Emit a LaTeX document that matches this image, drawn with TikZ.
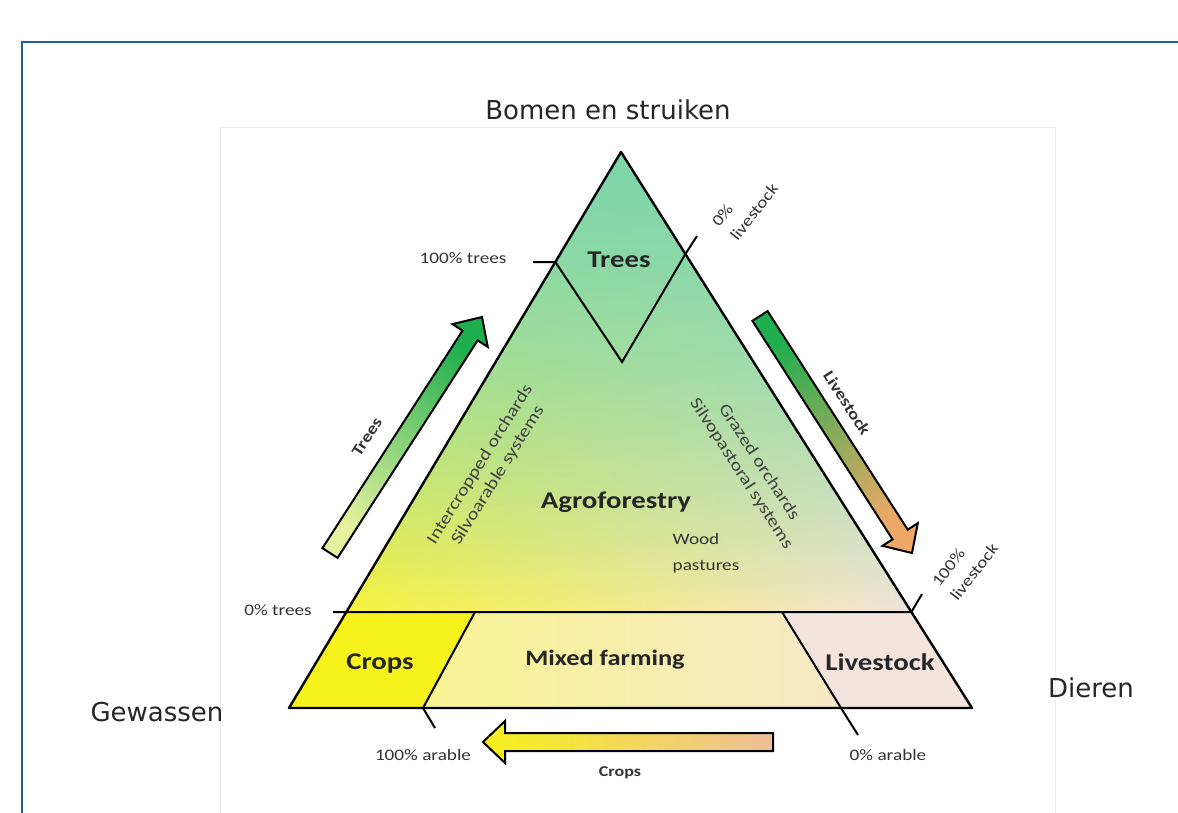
\documentclass[tikz,border=0pt]{standalone}
\usepackage{fontspec}
\setmainfont{Carlito}[FakeStretch=1.2]
\newfontfamily\axisfont{DejaVu Sans}
\usetikzlibrary{calc,fadings}
\definecolor{framec}{HTML}{1E6091}
\definecolor{mint}{HTML}{7DD6AA}
\definecolor{cropyellow}{HTML}{F8F21C}
\definecolor{mixyellow}{HTML}{F8F494}
\definecolor{beige}{HTML}{F3E4DC}
\definecolor{leafgreen}{HTML}{1FAE4E}
\definecolor{lightleaf}{HTML}{E6F2A0}
\definecolor{peach}{HTML}{F0A868}
\definecolor{sand}{HTML}{EEBE98}
\tikzfading[name=fadedown,top color=transparent!0,bottom color=transparent!100]
\newcommand\fatarrow[3]{%
	\path ($(#2)!22pt!(#1)$) coordinate (hb);
	\draw[fat,#3] ($(#1)!9pt!90:(#2)$)--($(hb)!9pt!90:(#2)$)--($(hb)!21pt!90:(#2)$)--(#2)
		--($(hb)!21pt!-90:(#2)$)--($(hb)!9pt!-90:(#2)$)--($(#1)!9pt!-90:(#2)$)--cycle;}
\begin{document}
\begin{tikzpicture}[x=1pt,y=-1pt,
		edge/.style={line width=2.4pt,line join=round},
		tick/.style={line width=2pt},
		fat/.style={draw=black,line width=2pt,line join=miter},
		big/.style={font=\bfseries\fontsize{24}{26}\selectfont,text=black!85},
		small/.style={font=\fontsize{16}{20}\selectfont,text=black!80},
		side/.style={font=\fontsize{17}{21}\selectfont,text=black!75,align=center},
		outer/.style={font=\axisfont\fontsize{26}{30}\selectfont,text=black!85}]
		\useasboundingbox (0,0) rectangle (1178,812);
		\fill[white] (0,0) rectangle (1178,812);
		\draw[black!8,line width=0.8pt] (220,127) rectangle (1055,820);
		\draw[framec,line width=2.5pt] (22,820)--(22,42)--(1190,42);
		\coordinate (apex) at (621,152);
		\coordinate (bl) at (289,708);
		\coordinate (br) at (972,708);
		\coordinate (le) at (346.3,612);
		\coordinate (re) at (911.4,612);
		\coordinate (cropt) at (475,612);
		\coordinate (cropb) at (423,708);
		\coordinate (livt) at (782,612);
		\coordinate (livb) at (841,708);
		\coordinate (vl) at (555.3,262);
		\coordinate (vb) at (622,362);
		\coordinate (vr) at (685.4,254);
		\fill[left color=cropyellow!85!white,middle color=mixyellow!55!white,right color=beige] (apex)--(le)--(re)--cycle;
		\fill[mint,path fading=fadedown] (apex)--(le)--(re)--cycle;
		\fill[mint,path fading=fadedown,fill opacity=0.6] (apex)--(le)--(re)--cycle;
		\fill[cropyellow] (le)--(cropt)--(cropb)--(bl)--cycle;
		\fill[left color=mixyellow,right color=beige!70!mixyellow] (cropt)--(livt)--(livb)--(cropb)--cycle;
		\fill[beige] (livt)--(re)--(br)--(livb)--cycle;
		\draw[edge] (apex)--(bl)--(br)--cycle;
		\draw[tick] (333,612)--(re)--(922,594);
		\draw[tick] (cropt)--(cropb)--(435,728);
		\draw[tick] (livt)--(livb)--(858,735);
		\draw[tick] (533,262)--(vl)--(vb)--(vr)--(697,236);
		\coordinate (treetail) at (330,553);
		\coordinate (treetip) at (482,317);
		\coordinate (livetail) at (760,316);
		\coordinate (livetip) at (912,553);
		\coordinate (croptail) at (773,742);
		\coordinate (croptip) at (483,742);
		\fatarrow{treetail}{treetip}{top color=leafgreen,bottom color=lightleaf,shading angle=-32.4}
		\fatarrow{livetail}{livetip}{top color=leafgreen,bottom color=peach,shading angle=32.7}
		\fatarrow{croptail}{croptip}{left color=cropyellow,right color=sand}
		\node[name=top,outer] at (608,110){Bomen en struiken};
		\node[name=left,outer] at (157,712){Gewassen};
		\node[name=right,outer] at (1091,688){Dieren};
		\node[name=trees,big] at (619,260){Trees};
		\node[name=agro,big] at (616,502){Agroforestry};
		\node[name=crops,big] at (380,664){Crops};
		\node[name=mixed,big,font=\bfseries\fontsize{22}{24}\selectfont] at (605,660){Mixed farming};
		\node[name=stock,big] at (880,662){Livestock};
		\node[name=wood,small,align=left,font=\fontsize{16}{26}\selectfont] at (706,553){Wood\\pastures};
		\node[name=arable,side,rotate=58] at (489,470){Intercropped orchards\\Silvoarable systems};
		\node[name=pastoral,side,rotate=-57] at (750,468){Grazed orchards\\Silvopastoral systems};
		\node[name=fulltrees,small] at (463,258){100\% trees};
		\node[name=notrees,small] at (278,610){0\% trees};
		\node[name=fullarable,small] at (423,755){100\% arable};
		\node[name=noarable,small] at (888,755){0\% arable};
		\node[name=nostock,small,align=left,rotate=52,font=\fontsize{16}{23}\selectfont] at (745,205){0\%\\livestock};
		\node[name=fullstock,small,align=left,rotate=52,font=\fontsize{16}{23}\selectfont] at (965,565){100\%\\livestock};
		\node[name=treearrow,small,font=\bfseries\fontsize{16}{18}\selectfont,rotate=57] at (367,437){Trees};
		\node[name=stockarrow,small,font=\bfseries\fontsize{16}{18}\selectfont,rotate=-57] at (847,403){Livestock};
		\node[name=croparrow,small,font=\bfseries\fontsize{15}{18}\selectfont] at (620,773){Crops};
	\end{tikzpicture}
\end{document}
